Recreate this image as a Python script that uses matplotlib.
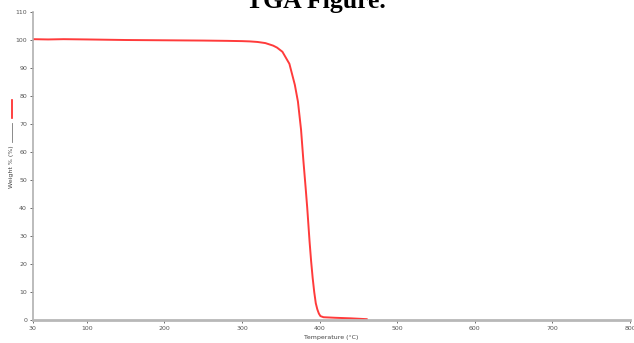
import matplotlib
matplotlib.use('Agg')
import matplotlib.pyplot as plt
from matplotlib.lines import Line2D

# TGA curve
temp = [30, 50, 70, 100, 150, 200, 250, 280, 300, 310, 320, 330, 340, 345,
        352, 361, 368, 372, 376, 379, 382, 384, 387, 389, 391, 393, 395, 397,
        399, 401, 405, 420, 440, 461]
weight = [100.3, 100.2, 100.3, 100.2, 100.0, 99.9, 99.8, 99.7, 99.6, 99.5,
          99.3, 98.9, 98.0, 97.3, 95.8, 91.5, 84.0, 78.0, 68.0, 57.0, 47.0,
          40.0, 28.0, 21.0, 15.0, 10.0, 6.0, 3.8, 2.3, 1.4, 1.0, 0.8, 0.6, 0.3]

xticks = [30, 100, 200, 300, 400, 500, 600, 700, 800]
yticks = [0, 10, 20, 30, 40, 50, 60, 70, 80, 90, 100, 110]

fig = plt.figure(figsize=(6.34, 3.43), dpi=100)
ax = fig.add_axes([0.0514, 0.067, 0.9423, 0.898])

ax.plot(temp, weight, color='#ff3b3b', lw=1.4, solid_capstyle='round',
        solid_joinstyle='round')

ax.set_xlim(30, 800)
ax.set_ylim(0, 110)
ax.set_xticks(xticks)
ax.set_yticks(yticks)
ax.tick_params(labelsize=4.5, colors='#555555', length=2, width=0.6, pad=2)

for s in ['top', 'right']:
    ax.spines[s].set_visible(False)
ax.spines['left'].set_color('#b0b0b0')
ax.spines['left'].set_linewidth(1.2)
ax.spines['bottom'].set_color('#b8b8b8')
ax.spines['bottom'].set_linewidth(2)

fig.text(0.522, 0.017, 'Temperature (°C)', fontsize=4.5, color='#444444',
         ha='center', va='center')

# y label with legend-like key, as in the original
fig.text(0.0175, 0.515, 'Weight % (%)', fontsize=4.5, color='#444444',
         rotation=90, ha='center', va='center')
fig.add_artist(Line2D([0.0185, 0.0185], [0.585, 0.64], color='#777777', lw=0.6))
fig.add_artist(Line2D([0.0185, 0.0185], [0.655, 0.708], color='#ff2020', lw=1.2))

fig.text(0.499, 0.977, 'TGA Figure.', fontsize=18.5, fontweight='bold',
         family=['Liberation Serif', 'DejaVu Serif'], ha='center', va='baseline')

fig.savefig('out.png', dpi=100)
